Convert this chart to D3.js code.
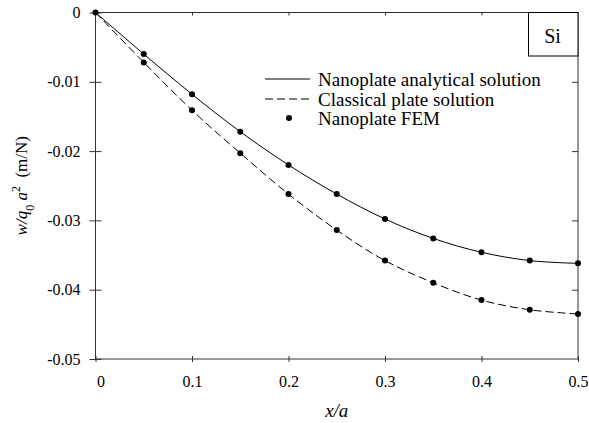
<!DOCTYPE html>
<html>
<head>
<meta charset="utf-8">
<script src="https://cdn.jsdelivr.net/npm/d3@7"></script>
<style>
  body { margin: 0; background: #fff; }
  svg text { font-family: "Liberation Serif", "Times New Roman", serif; fill: #000; }
</style>
</head>
<body>
<div id="chart"></div>
<script>
// x/a positions
var xVals = [0, 0.05, 0.1, 0.15, 0.2, 0.25, 0.3, 0.35, 0.4, 0.45, 0.5];
// nanoplate analytical solution
var nanoVals = [0, -0.0060, -0.0118, -0.0172, -0.0220, -0.0262, -0.0298, -0.0326, -0.0346, -0.0358, -0.0362];
// classical plate solution
var classicVals = [0, -0.0072, -0.0141, -0.0203, -0.0262, -0.0314, -0.0358, -0.0390, -0.0415, -0.0429, -0.0435];
var xTicks = [0, 0.1, 0.2, 0.3, 0.4, 0.5];
var yTicks = [0, -0.01, -0.02, -0.03, -0.04, -0.05];
var legendItems = ["Nanoplate analytical solution", "Classical plate solution", "Nanoplate FEM"];

var W = 589, H = 423;
var plotL = 95.5, plotR = 578, plotT = 12.5, plotB = 359;
var serif = "Liberation Serif, Times New Roman, serif";

var svg = d3.select("#chart").append("svg").attr("width", W).attr("height", H);

var x = d3.scaleLinear().domain([0, 0.5]).range([plotL, plotR]);
var y = d3.scaleLinear().domain([-0.05, 0]).range([plotB, plotT]);

var axisColor = "#333";

// frame
svg.append("rect").attr("x", plotL).attr("y", plotT)
    .attr("width", plotR - plotL).attr("height", plotB - plotT)
    .attr("fill", "none").attr("stroke", axisColor).attr("stroke-width", 1);

// left axis: ticks cross the axis
var yAxis = svg.append("g").attr("transform", "translate(" + plotL + ",0)")
    .call(d3.axisLeft(y).tickValues(yTicks).tickSize(6).tickPadding(9)
        .tickFormat(function (d) { return d === 0 ? "0" : d3.format(".2f")(d).replace("−", "-"); }));
yAxis.attr("font-family", serif).attr("font-size", 16);
yAxis.select(".domain").remove();
yAxis.selectAll(".tick line").attr("x1", -6).attr("x2", 6).attr("stroke", axisColor);

// bottom axis
var xAxis = svg.append("g").attr("transform", "translate(0," + plotB + ")")
    .call(d3.axisBottom(x).tickValues(xTicks).tickSize(3).tickPadding(14)
        .tickFormat(function (d) { return d === 0 ? "0" : d3.format(".1f")(d); }));
xAxis.attr("font-family", serif).attr("font-size", 16);
xAxis.select(".domain").remove();
xAxis.selectAll(".tick line").attr("y1", -3).attr("y2", 3).attr("stroke", axisColor);
xAxis.selectAll(".tick").filter(function (d) { return d === 0; }).select("text").attr("dx", 5);

// top axis, inward ticks
var topAxis = svg.append("g").attr("transform", "translate(0," + plotT + ")")
    .call(d3.axisBottom(x).tickValues(xTicks.slice(1, 5)).tickSize(3).tickFormat(""));
topAxis.select(".domain").remove();
topAxis.selectAll("line").attr("stroke", axisColor);

// right axis, inward ticks
var rightAxis = svg.append("g").attr("transform", "translate(" + plotR + ",0)")
    .call(d3.axisLeft(y).tickValues(yTicks.slice(1, 5)).tickSize(6).tickFormat(""));
rightAxis.select(".domain").remove();
rightAxis.selectAll("line").attr("stroke", axisColor);

// curves
var nanoData = xVals.map(function (v, i) { return [v, nanoVals[i]]; });
var classicData = xVals.map(function (v, i) { return [v, classicVals[i]]; });

var line = d3.line()
    .x(function (d) { return x(d[0]); })
    .y(function (d) { return y(d[1]); })
    .curve(d3.curveCatmullRom);

svg.append("path").datum(nanoData).attr("d", line)
    .attr("fill", "none").attr("stroke", "#000").attr("stroke-width", 1);
svg.append("path").datum(classicData).attr("d", line)
    .attr("fill", "none").attr("stroke", "#000").attr("stroke-width", 1)
    .attr("stroke-dasharray", "8,4");

// FEM dots
svg.selectAll("circle.nano").data(nanoData).enter().append("circle")
    .attr("class", "nano")
    .attr("cx", function (d) { return x(d[0]); })
    .attr("cy", function (d) { return y(d[1]); })
    .attr("r", 3).attr("fill", "#000");
svg.selectAll("circle.classic").data(classicData.slice(1)).enter().append("circle")
    .attr("class", "classic")
    .attr("cx", function (d) { return x(d[0]); })
    .attr("cy", function (d) { return y(d[1]); })
    .attr("r", 3).attr("fill", "#000");

// legend
var lg = svg.append("g");
var rowY = [79, 99, 118];
lg.append("line").attr("x1", 265).attr("x2", 310).attr("y1", rowY[0]).attr("y2", rowY[0])
    .attr("stroke", "#000");
lg.append("line").attr("x1", 265).attr("x2", 310).attr("y1", rowY[1]).attr("y2", rowY[1])
    .attr("stroke", "#000").attr("stroke-dasharray", "8,4");
lg.append("circle").attr("cx", 289).attr("cy", rowY[2]).attr("r", 3).attr("fill", "#000");
lg.selectAll("text").data(legendItems).enter().append("text")
    .attr("x", 318).attr("y", function (d, i) { return rowY[i] + 6.5; })
    .style("font-size", "19px")
    .text(function (d) { return d; });

// Si box
svg.append("rect").attr("x", 528.5).attr("y", plotT).attr("width", plotR - 528.5).attr("height", 43.5)
    .attr("fill", "#fff").attr("stroke", "#000");
svg.append("text").attr("x", 552.5).attr("y", 42.5)
    .attr("text-anchor", "middle").style("font-size", "20px").text("Si");

// x label
svg.append("text").attr("x", (plotL + plotR) / 2).attr("y", 417)
    .attr("text-anchor", "middle").style("font-size", "19px").style("font-style", "italic")
    .text("x/a");

// y label
var yl = svg.append("text").attr("transform", "translate(27," + ((plotT + plotB) / 2) + ") rotate(-90)")
    .attr("text-anchor", "middle").style("font-size", "17px").style("white-space", "pre");
yl.append("tspan").style("font-style", "italic").text("w/q");
yl.append("tspan").attr("baseline-shift", "sub").style("font-size", "12px").text("0");
yl.append("tspan").style("font-style", "italic").text(" a");
yl.append("tspan").attr("baseline-shift", "super").style("font-size", "12px").text("2");
yl.append("tspan").text("  (m/N)");
</script>
</body>
</html>
